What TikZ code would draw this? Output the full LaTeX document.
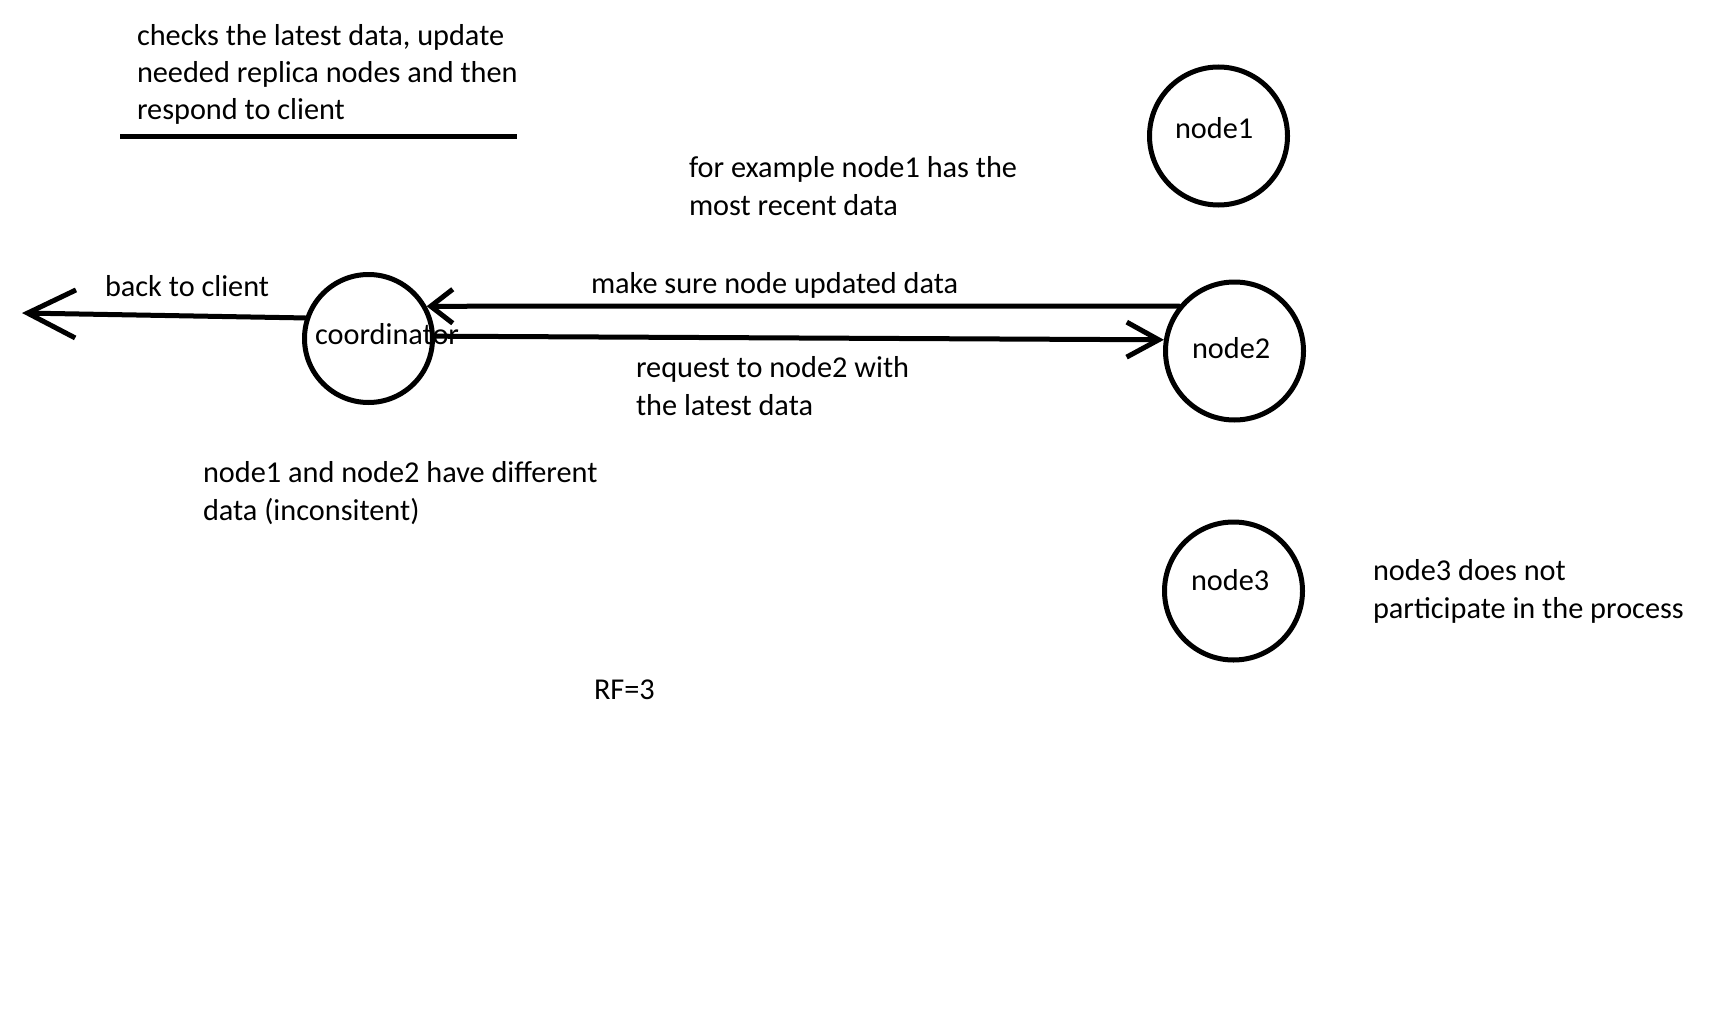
\documentclass[tikz,border=0pt]{standalone}
\usepackage{fontspec}
\setmainfont{Carlito}
\usetikzlibrary{arrows.meta}
\begin{document}
\begin{tikzpicture}[x=1pt,y=-1pt,
  every node/.style={font=\fontsize{30.3}{37.3}\selectfont},
  txt/.style={inner sep=0pt,outer sep=0pt,align=left,anchor=base west},
  ring/.style={circle,draw,line width=5pt,inner sep=0pt,minimum size=#1},
  conn/.style={line width=5pt,line cap=round},
]
\useasboundingbox (0,0) rectangle (1713,1022);
% circles
\node[ring=128pt] (co) at (368.5,338.5) {};
\node[ring=138pt] (n1) at (1218.5,136) {};
\node[ring=138pt] (n2) at (1234.5,351) {};
\node[ring=138pt] (n3) at (1233.5,591) {};
% circle labels
\node[txt] (tco) at (315,344) {coordinator};
\node[txt] (tn1) at (1175,139) {node1};
\node[txt] (tn2) at (1192,358) {node2};
\node[txt] (tn3) at (1191,590) {node3};
% texts
\node[txt] (top) at (137,120) {checks the latest data, update\\needed replica nodes and then\\respond to client};
\coordinate (ulA) at (120,137);
\coordinate (ulB) at (517,137);
\draw[line width=5pt] (ulA) -- (ulB);
\node[txt] (ex) at (689,215) {for example node1 has the\\most recent data};
\node[txt] (back) at (105,296) {back to client};
\node[txt] (make) at (591,293) {make sure node updated data};
\node[txt] (req) at (636,415) {request to node2 with\\the latest data};
\node[txt] (diff) at (203,520) {node1 and node2 have different\\data (inconsitent)};
\node[txt] (n3t) at (1373,618) {node3 does not\\participate in the process};
\node[txt] (rf) at (594,699) {RF=3};
% connectors
\coordinate (client) at (22,313);
\draw[conn,-{Straight Barb[length=48pt,width=48pt]}] (co.162) -- (client);
\draw[conn,-{Straight Barb[length=22pt,width=34pt]}] (n2.141) -- (co.29);
\draw[conn,-{Straight Barb[length=32pt,width=35pt]}] (co.2) -- (n2.171);
\end{tikzpicture}
\end{document}
